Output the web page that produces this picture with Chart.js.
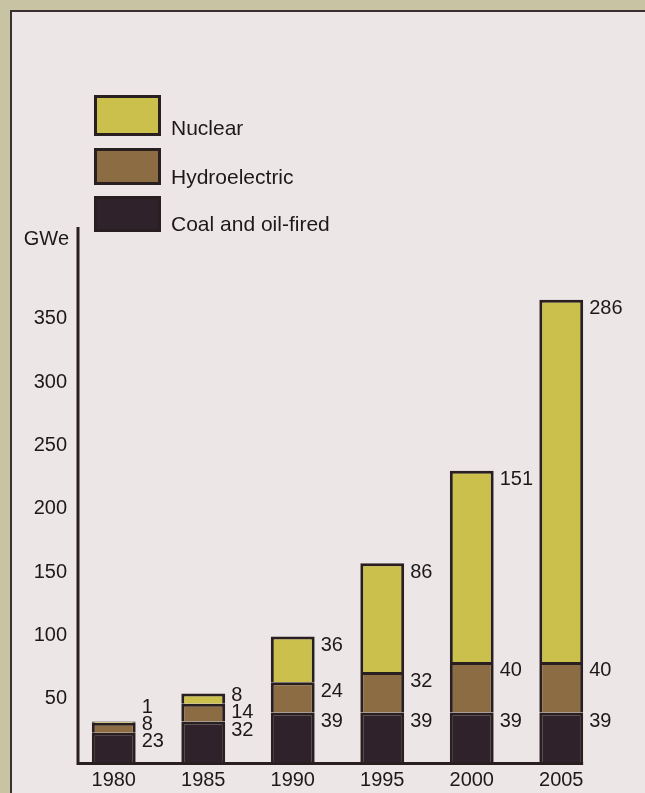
<!DOCTYPE html>
<html>
<head>
<meta charset="utf-8">
<script src="https://cdn.jsdelivr.net/npm/chart.js@4/dist/chart.umd.min.js"></script>
<style>
  html, body { margin: 0; padding: 0; }
  body { width: 645px; height: 793px; background: #c8c4a3; position: relative; overflow: hidden; }
  #panel {
    position: absolute; left: 10px; top: 10px; right: 0; bottom: 0;
    background: #ece7e6;
    border-left: 2px solid #3a2f31;
    border-top: 2px solid #3a2f31;
  }
  #chart { position: absolute; left: 0; top: 0; }
</style>
</head>
<body>
<div id="panel"></div>
<canvas id="chart" width="645" height="793"></canvas>
<script>
const years = ['1980', '1985', '1990', '1995', '2000', '2005'];
const coalOil = [23, 32, 39, 39, 39, 39];
const hydro = [8, 14, 24, 32, 40, 40];
const nuclear = [1, 8, 36, 86, 151, 286];
const yTicks = [50, 100, 150, 200, 250, 300, 350];

const ink = '#2a1f20';
const textColor = '#1f1819';
const fontFamily = '"Liberation Sans", Arial, Helvetica, sans-serif';

// boxes drawn at the top left, nuclear first
function drawLegend(chart) {
  const ctx = chart.ctx;
  const tops = [95, 148, 196];
  const heights = [41, 37, 36];
  const list = chart.data.datasets.slice().reverse();
  ctx.save();
  list.forEach(function (ds, k) {
    ctx.fillStyle = ds.backgroundColor;
    ctx.fillRect(94, tops[k], 67, heights[k]);
    ctx.lineWidth = 3;
    ctx.strokeStyle = ink;
    ctx.strokeRect(95.5, tops[k] + 1.5, 64, heights[k] - 3);
    ctx.fillStyle = textColor;
    ctx.font = '21px ' + fontFamily;
    ctx.textBaseline = 'alphabetic';
    ctx.textAlign = 'left';
    ctx.fillText(ds.label, 171, tops[k] + heights[k] - 1);
  });
  ctx.restore();
}

const framePlugin = {
  id: 'frame',
  afterDatasetsDraw(chart) {
    const ctx = chart.ctx;
    const area = chart.chartArea;
    const y = chart.scales.y;
    const axisX = area.left + 9;
    const zeroY = y.getPixelForValue(0);
    const lastMeta = chart.getDatasetMeta(0);
    const lastBar = lastMeta.data[lastMeta.data.length - 1];
    const endX = lastBar.x + lastBar.width / 2;

    ctx.save();
    ctx.strokeStyle = ink;
    ctx.lineWidth = 3;
    ctx.beginPath();
    ctx.moveTo(axisX, area.top - 3);
    ctx.lineTo(axisX, zeroY + 1.5);
    ctx.lineTo(endX, zeroY + 1.5);
    ctx.stroke();

    // unit label above the tick labels
    ctx.fillStyle = textColor;
    ctx.font = '20px ' + fontFamily;
    ctx.textAlign = 'right';
    ctx.textBaseline = 'alphabetic';
    ctx.fillText('GWe', 69, 245);

    // segment values beside each bar, pushed apart where they crowd
    ctx.font = '20px ' + fontFamily;
    ctx.textAlign = 'left';
    ctx.textBaseline = 'middle';
    years.forEach(function (yr, i) {
      let prevY = Infinity;
      chart.data.datasets.forEach(function (ds, d) {
        const el = chart.getDatasetMeta(d).data[i];
        let ty = Math.min(el.y + 9, prevY - 17);
        prevY = ty;
        ctx.fillText(String(ds.data[i]), el.x + el.width / 2 + 6, ty);
      });
    });
    ctx.restore();

    drawLegend(chart);
  }
};

const barStyle = {
  borderColor: ink,
  borderWidth: { top: 3, left: 3, right: 3, bottom: 0 },
  borderSkipped: false,
  categoryPercentage: 1,
  barPercentage: 0.49
};

new Chart(document.getElementById('chart'), {
  type: 'bar',
  data: {
    labels: years,
    datasets: [
      Object.assign({ label: 'Coal and oil-fired', data: coalOil, backgroundColor: '#30222a' }, barStyle),
      Object.assign({ label: 'Hydroelectric', data: hydro, backgroundColor: '#8c6c42' }, barStyle),
      Object.assign({ label: 'Nuclear', data: nuclear, backgroundColor: '#cbc04b' }, barStyle)
    ]
  },
  options: {
    responsive: false,
    animation: false,
    events: [],
    layout: { padding: { top: 230, left: 0, right: 39, bottom: 0 } },
    plugins: {
      legend: { display: false },
      tooltip: { enabled: false }
    },
    scales: {
      x: {
        stacked: true,
        grid: { display: false, drawTicks: false },
        border: { display: false },
        ticks: { color: textColor, font: { family: fontFamily, size: 20 }, padding: 6 },
        afterFit: function (scale) { scale.height = 31; }
      },
      y: {
        stacked: true,
        min: 0,
        max: 420,
        grid: { display: false, drawTicks: false },
        border: { display: false },
        afterBuildTicks: function (scale) {
          scale.ticks = yTicks.map(function (v) { return { value: v }; });
        },
        ticks: { color: textColor, font: { family: fontFamily, size: 20 }, padding: 2 },
        afterFit: function (scale) { scale.width = 69; }
      }
    }
  },
  plugins: [framePlugin]
});
</script>
</body>
</html>
